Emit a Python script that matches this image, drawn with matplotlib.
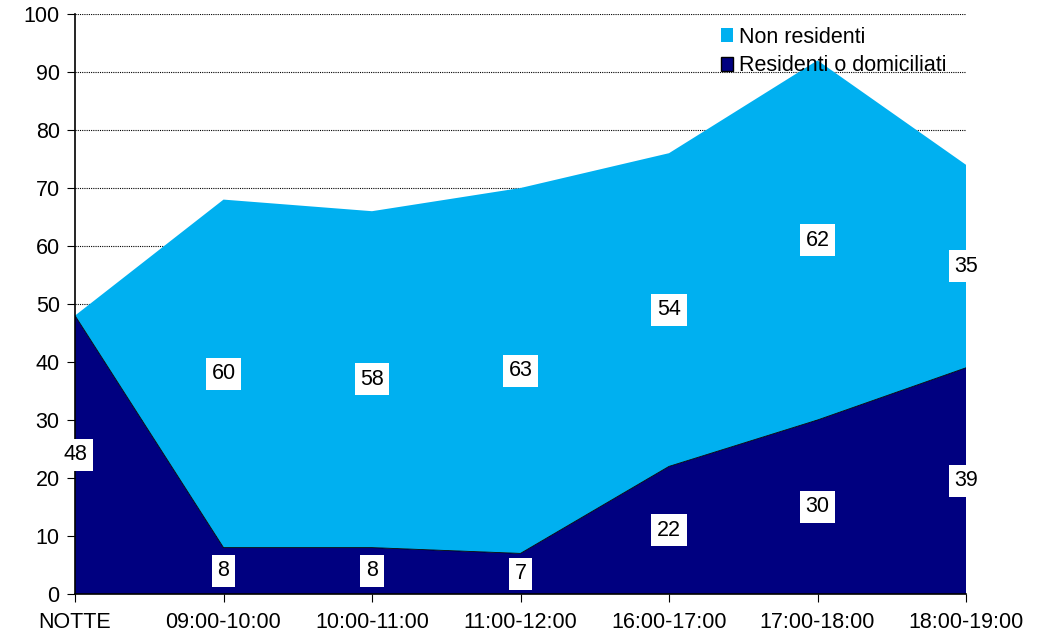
import matplotlib
matplotlib.use('agg')

import matplotlib.pyplot as plt
import numpy as np
from matplotlib.patches import Patch

plt.rcParams['font.family'] = ['Liberation Sans', 'DejaVu Sans']

categories = ["NOTTE", "09:00-10:00", "10:00-11:00", "11:00-12:00",
              "16:00-17:00", "17:00-18:00", "18:00-19:00"]
residenti = [48, 8, 8, 7, 22, 30, 39]
non_residenti = [0, 60, 58, 63, 54, 62, 35]

dark = "#000080"
light = "#00B0F0"
fs = 15.5

x = np.arange(len(categories))
res = np.array(residenti)
nonres = np.array(non_residenti)

fig = plt.figure(figsize=(10.53, 6.35), dpi=100)
ax = fig.add_axes([75 / 1053, 1 - 594 / 635, (966 - 75) / 1053, (594 - 14) / 635])

ax.stackplot(x, res, nonres, colors=[dark, light], linewidth=0)
ax.plot(x, res, color="black", lw=0.6)

for yv in range(10, 101, 10):
    ax.axhline(yv, color="black", lw=0.8, ls=(0, (1, 1)), zorder=0.5)

box = dict(facecolor="white", edgecolor="none", pad=4)
for i in range(len(x)):
    ax.text(x[i], res[i] / 2, str(res[i]), ha="center", va="center",
            fontsize=fs, bbox=box)
    if nonres[i] > 0:
        ax.text(x[i], res[i] + nonres[i] / 2, str(nonres[i]), ha="center",
                va="center", fontsize=fs, bbox=box)

ax.set_xlim(0, len(x) - 1)
ax.set_ylim(0, 100)
ax.set_yticks(range(0, 101, 10))
ax.set_xticks(x)
ax.set_xticklabels(categories)
ax.tick_params(labelsize=fs, direction="out", length=6, color="black")
ax.tick_params(axis="y", pad=5)
ax.tick_params(axis="x", pad=7)
for s in ["top", "right"]:
    ax.spines[s].set_visible(False)
for s in ["left", "bottom"]:
    ax.spines[s].set_linewidth(1.2)

handles = [Patch(facecolor=light, edgecolor="none", label="Non residenti"),
           Patch(facecolor=dark, edgecolor="black", label="Residenti o domiciliati")]
ax.legend(handles=handles, loc="upper left", bbox_to_anchor=(0.71, 1.0),
          frameon=False, fontsize=fs, handlelength=0.6, handleheight=0.6,
          handletextpad=0.25, labelspacing=0.35, borderaxespad=0.2)

fig.savefig("out.png", dpi=100)
